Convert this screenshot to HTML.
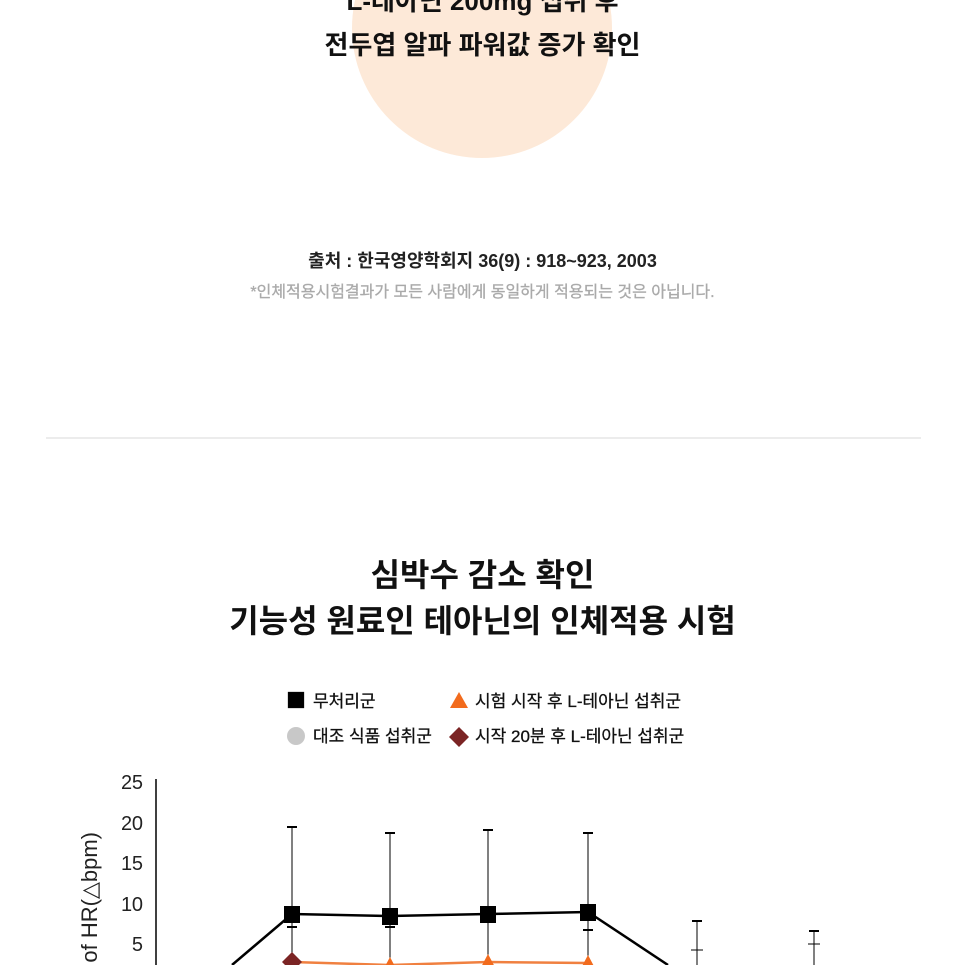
<!DOCTYPE html>
<html><head><meta charset="utf-8"><style>
html,body{margin:0;padding:0;background:#fff;}
body{width:965px;height:965px;position:relative;overflow:hidden;font-family:"Liberation Sans","Noto Sans CJK KR",sans-serif;}
.t{position:absolute;left:0;width:965px;text-align:center;white-space:nowrap;}
</style></head><body>
<div style="position:absolute;left:352px;top:-102px;width:260px;height:260px;border-radius:50%;background:#fde9d8;"></div>
<div class="t" style="top:-15px;font-size:26px;font-weight:bold;color:#111;line-height:32px;">L-테아닌 200mg 섭취 후</div>
<div class="t" style="top:29px;font-size:26px;font-weight:bold;color:#111;line-height:32px;">전두엽 알파 파워값 증가 확인</div>
<div class="t" style="top:249px;font-size:18px;font-weight:bold;color:#222;line-height:24px;">출처 : 한국영양학회지 36(9) : 918~923, 2003</div>
<div class="t" style="top:283px;font-size:16px;color:#aaa;line-height:20px;-webkit-text-stroke:0.3px #aaa;">*인체적용시험결과가 모든 사람에게 동일하게 적용되는 것은 아닙니다.</div>
<div style="position:absolute;left:46px;top:437px;width:875px;height:2px;background:#ececec;"></div>
<div class="t" style="top:555px;font-size:32px;font-weight:bold;color:#111;line-height:40px;">심박수 감소 확인</div>
<div class="t" style="top:601px;font-size:32px;font-weight:bold;color:#111;line-height:40px;">기능성 원료인 테아닌의 인체적용 시험</div>
<svg width="965" height="965" style="position:absolute;left:0;top:0" xmlns="http://www.w3.org/2000/svg">
 <g font-family="Liberation Sans, Noto Sans CJK KR, sans-serif" font-size="17" fill="#111" stroke="#111" stroke-width="0.3">
  <rect x="288" y="692" width="16" height="16" fill="#000"/>
  <text x="313" y="707">무처리군</text>
  <polygon points="459,692 468,708 450,708" fill="#f26b1d" stroke="none"/>
  <text x="475" y="707">시험 시작 후 L-테아닌 섭취군</text>
  <circle cx="296" cy="736" r="9" fill="#c8c8c8" stroke="none"/>
  <text x="313" y="742">대조 식품 섭취군</text>
  <polygon points="459,727 469,737 459,747 449,737" fill="#7b2424" stroke="none"/>
  <text x="475" y="742">시작 20분 후 L-테아닌 섭취군</text>
 </g>
 <g font-family="Liberation Sans, DejaVu Sans, sans-serif" font-size="20" fill="#222" text-anchor="end">
  <text x="143" y="789" textLength="22">25</text>
  <text x="143" y="830" textLength="22">20</text>
  <text x="143" y="870" textLength="22">15</text>
  <text x="143" y="911" textLength="22">10</text>
  <text x="143" y="951">5</text>
  <text transform="translate(97,832) rotate(-90)" text-anchor="end" font-size="22">Change of HR(△bpm)</text>
 </g>
 <line x1="156" y1="779" x2="156" y2="965" stroke="#000" stroke-width="1.5"/>
 <g stroke="#000" stroke-width="1">
  <line x1="292" y1="827" x2="292" y2="965"/><line x1="287" y1="827" x2="297" y2="827" stroke-width="2"/><line x1="287" y1="927" x2="297" y2="927" stroke-width="2"/>
  <line x1="390" y1="833" x2="390" y2="965"/><line x1="385" y1="833" x2="395" y2="833" stroke-width="2"/><line x1="385" y1="927" x2="395" y2="927" stroke-width="2"/>
  <line x1="488" y1="830" x2="488" y2="965"/><line x1="483" y1="830" x2="493" y2="830" stroke-width="2"/>
  <line x1="588" y1="833" x2="588" y2="965"/><line x1="583" y1="833" x2="593" y2="833" stroke-width="2"/><line x1="583" y1="930" x2="593" y2="930" stroke-width="2"/>
  <line x1="697" y1="921" x2="697" y2="965"/><line x1="692" y1="921" x2="702" y2="921" stroke-width="2"/><line x1="691" y1="950" x2="703" y2="950"/>
  <line x1="814" y1="931" x2="814" y2="965"/><line x1="809" y1="931" x2="819" y2="931" stroke-width="2"/><line x1="808" y1="944" x2="820" y2="944"/>
 </g>
 <polyline points="292,962 390,965 488,962 588,963" fill="none" stroke="#f08040" stroke-width="2.5"/>
 <polygon points="292,952 302,962 292,972 282,962" fill="#7b2424"/>
 <polygon points="390,957 398,972 382,972" fill="#f26b1d"/>
 <polygon points="488,954 496,969 480,969" fill="#f26b1d"/>
 <polygon points="588,955 596,970 580,970" fill="#f26b1d"/>
 <polyline points="232,965 292,914 390,916 488,914 588,912 668,965" fill="none" stroke="#000" stroke-width="2.5"/>
 <rect x="284" y="906" width="16" height="17" fill="#000"/>
 <rect x="382" y="908" width="16" height="17" fill="#000"/>
 <rect x="480" y="906" width="16" height="17" fill="#000"/>
 <rect x="580" y="904" width="16" height="17" fill="#000"/>
</svg>
</body></html>
